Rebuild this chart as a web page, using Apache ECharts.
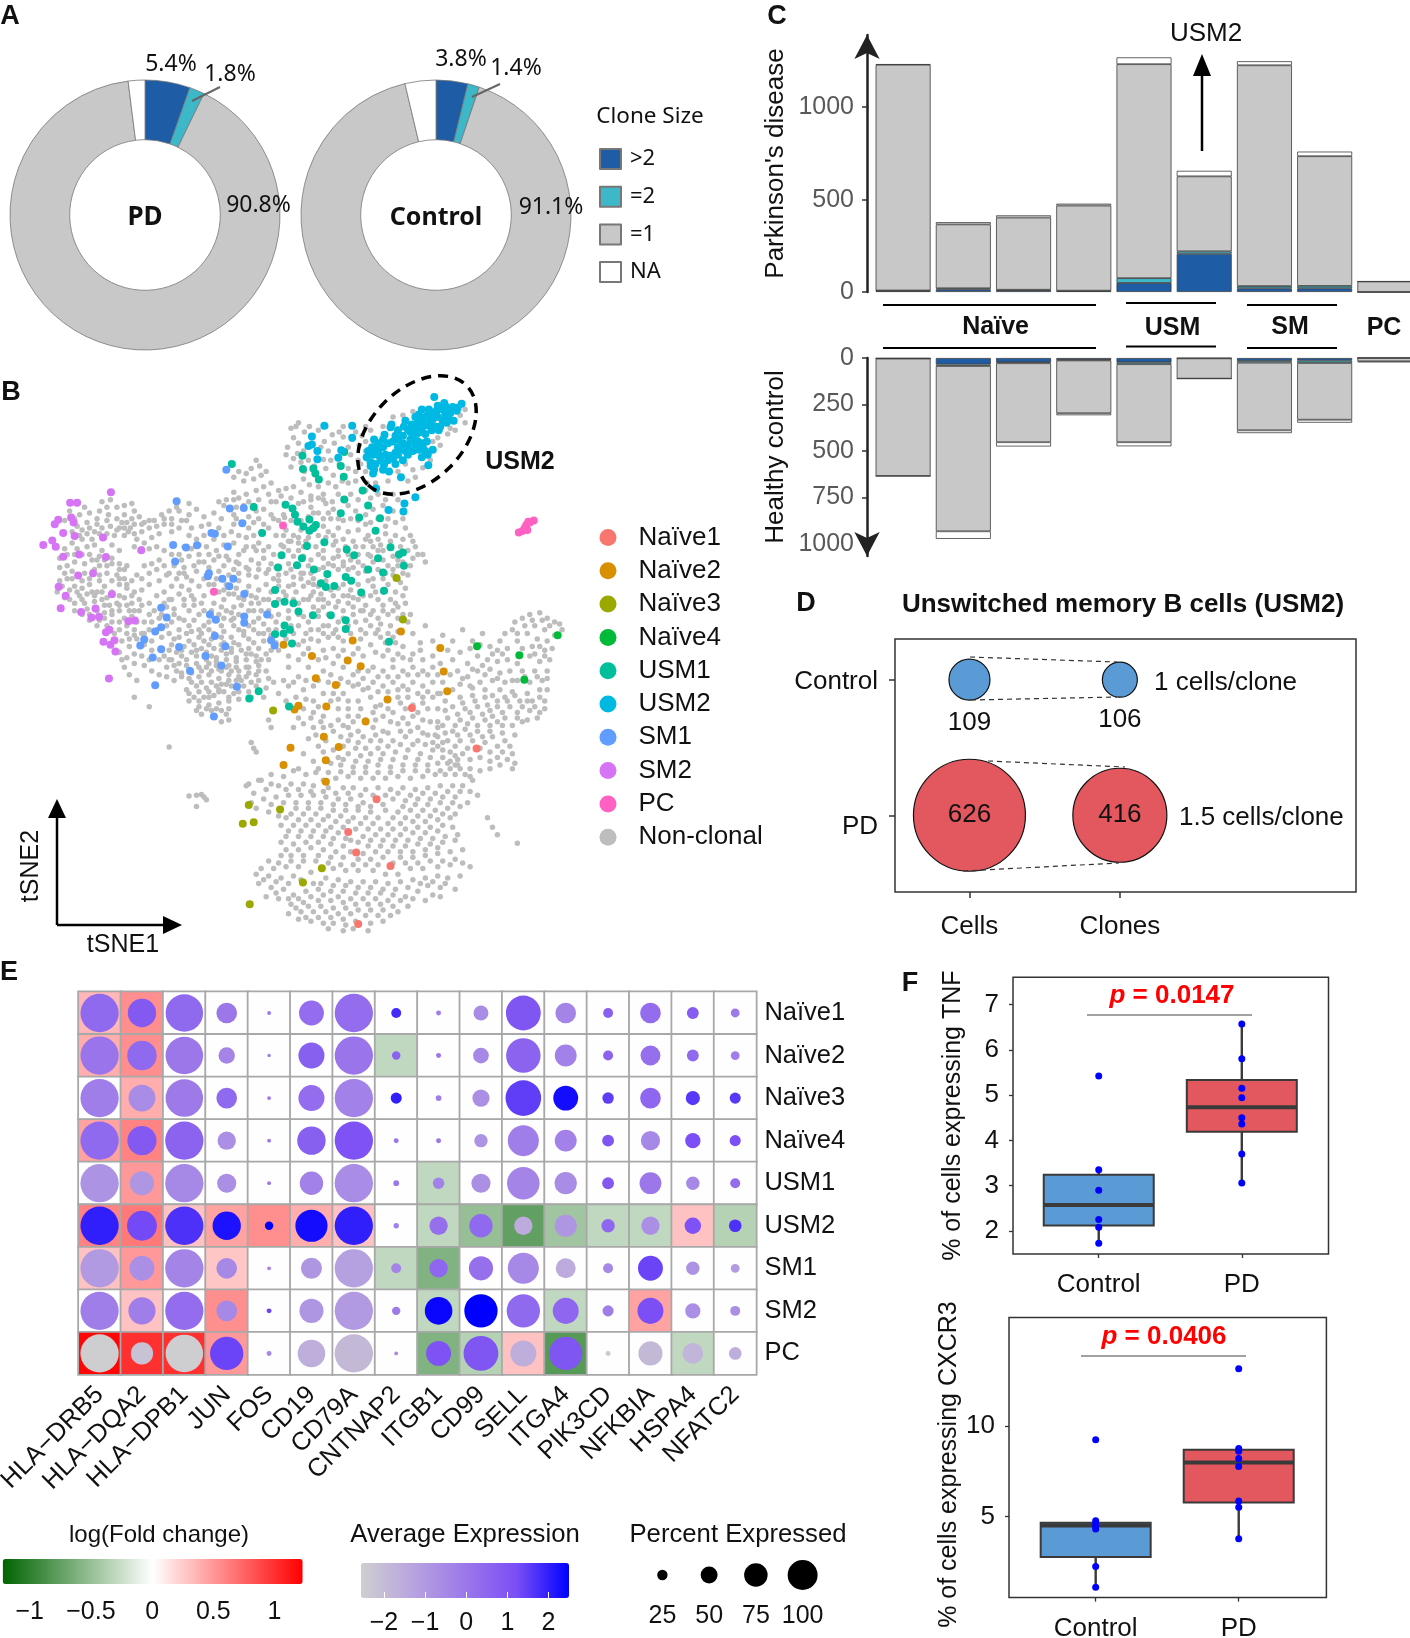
<!DOCTYPE html>
<html><head><meta charset="utf-8"><style>html,body{margin:0;padding:0;background:#fff}#c{width:1410px;height:1638px}</style>
<script src="https://cdn.jsdelivr.net/npm/echarts@6/dist/echarts.min.js"></script></head><body><div id="c"></div>
<script>
// ---------- DATA ----------
const cloneClasses=['>2','=2','=1','NA'];
const piePD=[5.4,1.8,90.8,2.0];
const pieControl=[3.8,1.4,91.1,3.7];
const subsetNames=['Naïve1','Naïve2','Naïve3','Naïve4','USM1','USM2','SM1','SM2','PC','Non-clonal'];
const tsneNaive1=[828,898,958,1006,757,1141,700,1228,716,1282,785,1318,720,1472];
const tsneNaive2=[570,730,709,719,806,695,885,739,892,801,899,854,627,760,699,772,725,787,635,819,675,837,779,876,656,894,600,892,592,902,735,934,651,975,681,1002,584,1004,655,1037,570,1050,655,1094];
const tsneNaive3=[797,553,810,663,549,905,500,1156,563,1168,488,1206,510,1202,647,1324,609,1362,502,1420];
const tsneNaive4=[959,734,1044,758,1121,705,1054,823];
const tsneUSM1=[466,250,608,228,692,218,609,263,630,262,634,275,641,291,685,255,691,284,729,320,692,344,510,364,574,358,588,368,593,385,740,360,685,381,722,392,764,394,598,403,622,397,635,412,610,416,630,420,622,427,755,427,527,433,652,458,617,468,785,471,697,477,712,492,566,492,607,500,810,485,802,490,760,500,812,520,597,519,559,525,631,530,740,530,770,538,658,542,695,550,706,560,645,567,655,577,672,574,772,587,553,585,726,591,590,620,572,616,553,622,600,642,629,652,665,652,695,665,695,688,572,679,583,690,570,700,553,702,587,727,782,722,520,854,501,873,581,894];
const tsneUSM2=[652,148,708,148,873,72,928,90,627,177,708,180,627,198,620,202,686,213,638,215,638,237,680,233,813,355,781,372,811,376,835,338,756,315,806,285,861,253,893,88,880,95,905,105,918,108,890,105,868,112,848,105,912,135,885,150,882,160,860,120,870,130,880,125,895,118,900,125,845,130,840,140,850,150,835,155,825,165,845,165,855,170,830,180,815,135,787,145,785,152,773,172,752,185,760,195,770,205,780,195,790,190,800,185,810,195,820,200,830,170,840,190,850,205,860,225,870,212,855,215,848,232,848,195,858,190,800,205,815,215,795,220,785,228,775,225,760,215,750,225,737,232,745,245,755,250,765,240,780,240,790,235,800,225,752,265,770,265,782,270,750,275,745,255,805,210,825,185,835,200,810,175,820,158,842,118,850,135,865,140,875,150,890,135,905,115,895,95,910,98,878,108,862,105,855,125,835,125,828,145,812,150,800,160,795,175,770,185,755,205,748,205,740,215,762,228,772,252,795,250,810,240,820,225,830,215,842,212,838,170,868,160,862,148,898,140,920,100];
const tsneSM1=[455,265,355,349,462,368,490,367,487,407,425,433,432,435,458,469,348,465,374,472,396,466,352,509,420,540,418,548,447,555,469,555,461,575,491,595,324,632,335,658,422,650,434,664,491,655,491,672,537,650,324,684,312,695,290,716,282,732,432,707,360,736,324,742,453,734,545,718,552,732,307,764,413,760,445,785,382,800,312,838,476,842,430,921];
const tsneSM2=[223,325,141,353,155,353,143,392,117,398,110,410,148,405,127,433,150,441,207,445,105,453,87,465,112,470,127,496,159,490,213,497,284,479,157,546,187,540,118,576,132,600,225,596,122,633,163,643,192,634,184,658,199,656,258,668,271,666,220,690,213,697,208,722,230,718,222,730,232,748,219,820];
const tsnePC=[569,413,430,589,1043,432,1055,420,1060,425,1058,412,1065,405,1073,400,1062,403,1050,428];
const tsneNonClonal=[
585,155,600,140,612,165,590,180,578,205,600,195,610,215,622,150,640,160,655,150,668,172,690,150,652,190,672,195,690,178,715,165,735,150,722,200,735,190,700,205,660,215,650,238,665,240,705,225,720,240,735,215,590,235,575,225,605,245,620,240,655,262,670,280,700,262,715,270,725,250,735,270,660,300,675,310,700,300,715,295,610,290,622,305,640,310,590,310,605,325,625,335,650,330,680,330,705,330,720,345,745,340,760,330,775,345,790,330,800,345,
770,150,790,125,810,120,830,110,925,120,935,140,915,160,900,170,880,180,870,190,885,200,865,240,850,260,830,265,815,250,800,270,780,295,835,285,905,155,935,105,820,295,
515,240,522,255,505,262,495,275,480,270,470,285,490,295,510,290,525,280,535,270,545,300,530,310,515,320,495,330,480,340,470,325,455,345,450,360,440,350,475,365,500,350,520,345,540,330,555,350,565,335,575,315,585,340,530,370,545,385,560,400,520,395,500,390,470,385,445,395,430,380,410,390,395,370,380,355,360,375,345,395,330,410,375,400,385,420,360,420,345,430,405,415,420,410,440,420,470,410,500,420,520,460,540,420,555,440,570,470,590,440,580,455,540,470,515,480,495,470,480,490,505,505,530,500,545,515,520,530,495,525,475,510,455,495,435,480,415,470,400,490,380,495,360,490,370,525,390,520,410,510,430,505,450,520,470,530,
610,350,625,365,640,380,655,355,670,370,700,360,715,375,735,385,750,370,770,360,790,375,650,395,690,400,705,395,745,405,775,415,795,405,810,395,
205,350,222,345,215,365,235,365,200,375,218,385,195,395,180,380,170,365,160,385,175,405,155,415,140,375,250,360,265,355,270,375,250,385,235,395,280,390,290,405,270,410,255,405,240,420,222,415,205,420,190,430,175,435,165,450,145,460,130,475,190,465,175,470,250,440,270,435,262,420,285,430,300,420,310,400,325,385,340,375,355,365,380,385,305,445,320,435,290,460,
120,500,135,520,150,510,170,515,185,505,200,520,225,500,240,515,130,540,145,555,165,560,180,570,200,560,215,540,235,545,120,560,115,590,140,585,155,590,175,595,195,590,210,575,240,570,255,580,270,590,285,555,300,540,315,530,330,520,280,610,265,620,250,605,235,620,220,625,205,610,190,615,150,620,165,610,175,635,210,645,225,650,240,640,260,640,280,640,300,620,315,600,330,590,345,575,290,670,300,650,240,670,225,670,240,690,255,700,270,690,285,700,300,690,245,720,260,735,240,750,255,765,270,780,285,760,300,770,270,755,285,730,245,770,260,810,275,825,270,870,300,895,
340,540,355,555,370,540,385,560,400,575,380,585,360,595,345,610,330,620,350,635,370,625,390,610,410,600,430,620,450,610,470,630,455,640,440,650,420,670,400,650,380,640,360,660,345,670,340,700,360,690,380,680,400,690,420,690,445,680,465,665,480,650,500,640,520,620,540,640,520,660,500,680,480,690,465,710,445,710,420,730,400,710,380,720,360,710,345,730,330,760,345,770,365,760,385,750,405,740,425,760,445,745,465,750,480,730,500,715,520,700,540,690,555,670,500,740,515,760,495,770,475,790,455,770,435,785,415,790,395,780,375,785,355,800,335,790,400,510,420,525,440,535,460,545,480,560,500,575,520,585,535,570,550,555,500,545,480,540,515,550,535,540,505,600,480,605,460,595,440,590,420,570,
380,820,400,815,420,810,440,820,460,810,480,800,500,790,520,785,540,770,375,850,395,840,415,845,435,840,455,835,475,825,495,815,515,810,535,800,550,830,390,870,410,870,430,865,450,855,470,860,490,840,380,880,400,895,420,890,440,885,460,880,480,875,405,915,425,905,445,905,460,930,445,935,460,900,520,800,540,820,515,840,530,870,505,870,505,990,515,1015,510,1005,545,950,540,930,340,1002,
570,440,585,455,600,445,620,445,640,440,660,430,680,420,700,430,720,425,740,440,775,435,795,440,810,450,825,440,835,470,850,490,565,465,580,480,600,480,635,470,670,465,680,480,730,470,750,470,770,480,830,500,855,510,820,545,800,520,780,520,750,510,720,510,690,510,670,500,650,500,625,505,580,515,575,540,590,550,610,540,630,555,680,530,720,540,750,555,790,545,805,565,780,570,750,575,740,560,705,585,690,600,670,600,650,610,630,590,610,575,595,590,570,590,540,610,610,610,630,630,650,630,675,630,700,620,720,610,745,600,760,610,785,610,810,600,640,655,620,670,600,680,615,700,640,690,660,680,680,670,710,650,730,640,750,640,780,650,800,630,815,620,640,720,660,710,680,710,705,700,725,690,745,680,765,675,785,680,600,730,620,740,650,745,670,740,690,745,720,740,745,730,765,710,790,710,810,735,825,650,855,680,830,700,845,725,
770,760,790,770,810,765,830,755,850,770,870,760,910,770,930,690,950,720,970,700,985,735,1000,745,1020,740,1040,720,1030,690,1050,660,1065,650,1085,645,1100,660,1115,670,1075,680,1095,690,1060,700,1080,715,1100,720,1115,705,1130,690,1050,740,1070,735,1095,745,1065,760,1085,775,1105,770,1040,780,1020,770,1000,775,980,770,960,760,940,780,920,800,940,815,960,800,985,795,1005,805,1025,800,1050,800,1075,800,1100,800,1090,825,1065,830,1040,825,1015,830,990,825,965,830,945,840,925,835,1005,850,1030,855,1060,860,1085,850,1100,850,1045,880,1070,880,1095,880,1020,880,1000,880,975,870,950,865,925,870,910,895,935,900,960,895,985,905,1010,910,1040,910,1065,905,1085,910,1050,935,1030,945,1000,935,975,930,950,925,925,930,900,925,880,935,910,960,935,955,960,960,985,960,1010,965,1035,970,1025,1000,1000,1000,975,990,950,985,925,985,900,985,880,975,905,1015,930,1020,1000,1030,1020,1035,1035,1045,985,1060,965,1065,945,1060,920,1050,900,1045,
600,770,620,790,600,815,580,840,560,860,575,880,610,850,630,840,650,800,670,780,690,790,710,810,730,820,750,790,770,800,790,790,810,800,830,790,850,800,870,790,890,830,870,830,850,840,830,830,810,840,790,830,770,840,750,830,730,850,710,840,690,860,670,860,650,860,630,880,610,900,630,910,650,920,680,900,700,880,720,880,745,870,765,890,800,870,820,870,850,870,870,870,895,880,880,900,860,900,840,910,815,900,790,910,770,920,750,910,720,920,700,920,680,930,650,950,630,950,610,940,590,950,620,980,640,1000,670,960,700,950,720,960,750,950,770,960,800,940,820,940,840,950,865,935,880,950,860,970,840,985,815,975,790,985,765,985,745,985,720,990,700,985,670,1010,700,1020,725,1025,745,1020,770,1020,795,1015,820,1010,845,1020,870,1010,890,1010,905,1040,880,1045,860,1050,835,1050,810,1050,785,1055,760,1050,735,1055,710,1055,685,1050,660,1070,630,1040,610,1020,600,1060,
500,1100,520,1090,545,1075,570,1080,590,1065,615,1075,635,1070,675,1085,700,1080,725,1085,750,1085,775,1085,800,1080,825,1085,850,1080,875,1075,895,1075,915,1075,935,1075,950,1090,960,1130,930,1105,910,1105,885,1105,860,1110,835,1115,810,1110,785,1115,760,1110,735,1115,710,1110,690,1110,660,1110,630,1105,610,1100,585,1100,560,1105,535,1115,510,1125,495,1105,505,1150,530,1140,555,1135,580,1130,605,1130,630,1130,655,1135,680,1140,705,1140,730,1150,790,1140,815,1145,840,1140,865,1140,890,1135,915,1135,940,1150,925,1160,900,1165,875,1170,850,1170,825,1170,800,1175,775,1170,745,1175,720,1170,695,1170,670,1170,645,1165,620,1165,595,1165,540,1175,575,1190,600,1195,625,1195,650,1195,675,1200,700,1200,725,1205,750,1205,780,1205,805,1205,830,1200,855,1200,880,1195,905,1190,880,1225,855,1230,830,1230,805,1235,780,1235,755,1235,730,1240,705,1250,680,1230,655,1225,630,1225,605,1225,580,1225,565,1255,590,1260,615,1255,640,1255,665,1260,690,1265,740,1265,765,1265,790,1265,815,1265,840,1260,865,1260,890,1255,915,1250,930,1275,905,1280,880,1285,855,1290,830,1295,805,1295,770,1295,745,1300,720,1300,690,1295,665,1295,640,1290,610,1290,585,1290,565,1290,525,1325,550,1325,575,1320,600,1320,625,1335,670,1325,695,1330,720,1330,750,1330,775,1340,800,1340,825,1325,850,1325,880,1320,905,1315,930,1310,945,1320,925,1345,900,1350,880,1345,855,1350,830,1355,805,1360,780,1365,755,1360,730,1360,705,1360,680,1355,655,1350,630,1365,590,1345,565,1350,540,1345,515,1340,520,1365,545,1375,570,1380,590,1395,615,1385,640,1380,665,1385,690,1385,715,1390,740,1390,765,1390,790,1395,815,1400,840,1385,860,1370,885,1375,915,1380,885,1400,855,1410,820,1425,790,1425,765,1420,740,1420,715,1420,690,1415,665,1410,640,1410,610,1415,585,1420,560,1405,535,1400,580,1445,605,1440,630,1440,655,1440,680,1445,705,1445,735,1450,760,1450,785,1450,670,1470,650,1470,695,1475,690,1490,740,1490,625,1465,600,1460,
380,1132,395,1130,410,1135,395,1160,405,1128,415,1142,990,1215,1000,1235,1040,1258,980,1190,
595,150,628,175,645,205,682,165,708,185,728,175,745,160,598,222,585,258,612,270,632,255,642,290,682,250,688,295,738,300,650,345,668,350,695,345,735,320,755,300,600,355,630,380,590,372,572,392,
150,395,165,425,185,450,215,400,245,405,258,430,275,450,230,440,210,445,195,410,225,465,240,480,205,480,155,475,135,490,120,525,145,535,170,540,190,530,215,520,250,530,265,560,285,585,300,570,320,560,335,545,125,575,130,605,160,600,185,590,205,590,225,590,250,555,265,600,240,600,215,605,195,640,180,650,200,665,215,680,230,700,265,655,275,670,250,660,310,640,325,650,335,630,305,670,315,690,325,710,305,720,290,730,275,715,260,715,305,745,320,770,290,785,305,800,320,810,335,815,350,825,365,815,250,790,
350,520,365,505,345,490,330,480,315,470,395,535,415,545,435,555,455,570,475,580,495,590,515,605,545,590,560,575,560,545,365,575,385,600,405,620,425,640,445,630,465,645,485,625,505,620,525,640,545,655,350,650,370,665,390,665,410,680,430,700,450,695,470,680,490,670,510,690,530,675,550,700,350,715,370,735,390,730,410,720,430,740,450,725,470,725,490,705,510,725,530,720,340,745,355,750,375,770,395,760,415,770,435,765,455,790,475,765,495,755,520,740,535,755,350,785,365,805,385,805,405,800,425,800,445,800,465,800,385,830,405,830,425,830,445,835,465,840,485,825,505,830,400,855,420,855,440,855,460,870,480,855,
575,425,605,425,625,420,650,415,670,440,690,450,710,455,735,450,760,450,785,455,805,470,820,480,590,495,610,470,650,480,660,515,700,490,720,490,740,490,760,480,790,495,800,505,825,520,600,520,620,520,640,530,660,545,700,530,730,520,760,530,790,530,810,540,560,560,590,570,620,565,640,575,665,585,690,570,720,570,770,555,795,590,815,580,560,610,580,640,600,620,620,610,640,610,660,620,690,640,710,630,735,625,770,625,795,620,560,650,580,660,640,640,660,650,690,660,715,670,735,665,760,660,800,660,820,670,555,690,545,705,575,715,610,655,625,690,650,680,675,690,700,680,725,715,755,700,780,700,800,695,560,745,580,760,610,755,630,760,655,765,680,760,710,755,730,760,755,750,780,745,800,755,825,770,845,745,
870,720,890,705,910,720,900,745,925,750,945,740,965,730,1005,720,1015,700,1035,670,1055,680,1040,700,1070,665,1090,665,1105,680,1125,675,1085,735,1110,740,1075,755,1095,760,1010,755,990,755,970,785,950,795,930,820,905,810,885,780,1000,820,975,810,1030,825,1055,815,1080,815,1100,820,950,845,975,850,990,865,1015,870,1035,865,1060,880,1085,870,910,850,885,860,930,885,955,880,980,890,1000,895,1025,895,1050,895,1075,895,1095,900,895,905,920,915,945,910,970,915,990,920,1015,925,1040,925,1060,930,1080,925,890,945,915,945,940,940,960,945,985,945,1010,945,895,965,920,970,945,970,970,975,990,975,1015,985,890,990,915,1000,940,1005,965,1005,985,1015,1010,1015,1030,1020,920,1035,945,1035,965,1030,985,1040,1005,1050,1030,1060,945,1080,915,1025,
580,790,640,770,665,810,685,820,700,830,720,800,740,800,760,815,780,815,800,815,820,810,840,810,860,810,880,810,570,825,590,830,615,825,640,825,660,830,680,835,720,835,740,845,760,855,780,855,800,850,820,850,840,860,860,855,880,860,595,870,615,875,640,895,665,880,680,875,700,900,725,900,755,895,780,900,805,885,830,890,850,885,600,925,625,925,645,935,665,945,690,945,710,935,735,930,755,930,785,935,810,925,830,920,850,930,635,970,655,985,685,975,705,970,730,975,755,970,780,965,805,960,825,960,850,965,875,970,870,990,650,1015,680,1030,690,1000,715,1005,735,1005,760,1005,780,1000,805,995,830,995,855,995,880,1000,640,1060,665,1045,690,1035,715,1040,740,1040,765,1035,790,1035,815,1030,840,1035,865,1030,890,1030,915,1050,650,1090,685,1068,710,1070,735,1070,760,1070,785,1070,810,1065,835,1065,860,1065,885,1065,905,1060,925,1060,
525,1090,545,1100,575,1115,600,1115,625,1120,650,1120,675,1125,700,1125,725,1130,750,1130,775,1130,800,1125,825,1130,850,1125,875,1125,900,1120,925,1120,945,1120,515,1165,545,1155,570,1150,595,1150,620,1150,645,1150,670,1155,695,1155,720,1160,745,1160,770,1155,810,1160,835,1155,860,1155,885,1150,910,1150,560,1185,585,1180,610,1180,635,1180,660,1185,685,1185,710,1190,735,1190,760,1190,790,1190,815,1190,840,1185,865,1185,890,1180,915,1180,565,1210,590,1210,615,1210,640,1210,665,1215,690,1215,715,1220,740,1220,765,1220,790,1220,815,1220,840,1215,865,1215,890,1210,910,1215,575,1240,600,1240,625,1240,650,1240,670,1245,695,1245,720,1255,745,1250,770,1250,795,1250,820,1250,845,1245,870,1245,895,1240,920,1235,575,1275,600,1275,625,1270,650,1275,675,1280,705,1280,730,1285,755,1280,780,1280,805,1280,830,1280,855,1275,880,1270,540,1305,560,1310,585,1305,610,1305,635,1305,660,1310,685,1315,710,1315,735,1315,760,1315,790,1310,815,1310,840,1310,865,1305,890,1305,915,1300,530,1355,555,1360,580,1365,605,1355,645,1365,670,1370,695,1370,720,1375,745,1375,770,1380,795,1380,820,1375,845,1365,870,1360,895,1365,555,1390,580,1405,600,1405,625,1400,650,1395,680,1400,705,1405,730,1405,755,1405,780,1410,805,1410,830,1405,870,1395,595,1430,620,1425,645,1425,670,1430,695,1430,720,1435,745,1435,770,1435,800,1440,615,1455,640,1455,665,1455,690,1460,715,1465,745,1470,770,1465,660,1485,710,1485,
130,400,145,430,160,440,180,420,200,435,215,435,235,425,250,420,265,395,285,410,300,400,315,415,330,395,345,410,365,400,300,475,285,475,270,470,150,490,165,490,180,490,200,495,195,505,210,505,225,515,240,530,255,520,135,555,150,575,165,580,180,555,200,545,225,560,240,555,255,570,275,545,290,520,305,515,320,505,285,625,270,640,255,625,240,625,225,640,210,625,190,600,170,620,140,610,150,640,165,650,180,665,195,680,210,660,255,680,270,705,290,700,320,660,335,680,340,610,
380,440,395,450,410,440,430,450,450,440,465,430,480,440,495,445,510,440,525,430,450,465,470,460,490,480,510,470,530,480,550,490,370,470,385,475,400,465,420,490,440,495,460,505,480,515,500,530,520,515,540,530,555,525,375,550,360,540,410,555,430,570,450,585,470,595,490,610,510,640,530,610,550,620,370,610,390,625,410,640,430,660,450,660,470,660,490,695,510,670,530,700,385,695,405,700,425,715,445,730,465,740,485,745,505,755,525,770,545,745,555,725,375,700,395,745,365,745,415,750,435,775,455,755,475,775,495,790,515,775,340,770,360,780,380,795,400,790,420,780,440,795,460,785,480,815,500,805,520,825,535,845,500,855,480,840,460,825,440,850,420,870,400,880,380,860,395,905,415,900,435,900,455,915,
600,460,615,455,655,445,675,455,695,470,715,470,745,455,765,465,805,485,840,490,810,510,770,505,745,495,705,505,680,495,640,490,610,495,585,530,605,540,625,540,650,525,670,520,690,520,710,525,735,535,775,540,800,555,770,590,755,590,730,600,710,605,680,580,655,560,630,570,605,555,580,575,575,600,590,610,625,600,645,595,680,615,700,600,725,640,745,650,770,640,790,640,810,650,600,650,585,680,610,720,625,715,650,700,670,700,690,720,710,720,735,700,760,690,775,725,795,725,590,700,
560,320,545,350,510,360,470,345,490,360,515,375,475,395,490,405,510,405,530,410,550,395,570,385,585,400,605,400,620,390,665,395,680,395,720,400,735,410,760,395,780,395,815,420,830,455,660,380,625,345,640,340];
const pdBlue=[6,14,10,5,49,207,20,20,0];
const pdTeal=[2,6,2,2,26,13,12,13,0];
const pdGrey=[1222,346,391,461,1158,406,1195,702,57];
const pdNA=[3,12,12,10,37,30,22,25,0];
const hcBlue=[3,35,23,10,23,2,15,14,0];
const hcTeal=[0,8,5,3,10,0,10,13,0];
const hcGrey=[632,889,425,284,420,109,364,305,18];
const hcNA=[0,41,23,11,22,0,15,16,5];
const usm2Counts={Control:[109,106],PD:[626,416]};
const genes=['HLA−DRB5','HLA−DQA2','HLA−DPB1','JUN','FOS','CD19','CD79A','CNTNAP2','ITGB1','CD99','SELL','ITGA4','PIK3CD','NFKBIA','HSPA4','NFATC2'];
const heatRows=['Naïve1','Naïve2','Naïve3','Naïve4','USM1','USM2','SM1','SM2','PC'];
const logFC=[
[.35,.55,0,0,0,0,0,0,0,0,0,0,0,0,0,0],
[.4,.55,0,0,0,0,0,-.3,0,0,0,0,0,0,0,0],
[0,.4,0,0,0,0,0,0,0,0,0,0,0,0,0,0],
[.45,.6,0,0,0,0,0,0,0,0,0,0,0,0,0,0],
[0,.5,0,0,0,0,0,0,-.3,0,0,0,0,0,0,0],
[.6,.65,.3,.45,.55,.4,.3,0,-.3,-.5,-.75,-.45,-.3,-.3,.3,-.35],
[.3,.5,0,.28,0,0,0,-.3,-.6,0,0,0,0,0,0,0],
[0,.3,0,.55,0,0,0,0,-.3,0,0,-.3,0,.45,0,0],
[1.2,1,1,.5,0,0,0,0,-.6,-.35,.3,-.8,0,0,-.3,0]];
const avgExpr=[
[.4,.9,.4,0,0,.3,.3,1.8,-.2,-.6,1,-.4,.7,.3,.8,-.1],
[.1,.4,0,-.4,-.2,.7,.1,.6,0,-.5,.6,-.3,.6,.2,.4,-.2],
[-.2,-.6,-.1,.4,0,.3,-.3,2,-.2,-.7,1.5,2.3,1.5,.5,1.6,1.6],
[.4,.9,.6,-.7,0,.7,1.1,0,0,-.8,-.2,-.3,1,-.5,1.2,1.2],
[-.8,-.9,-.5,-.7,0,-.3,-.6,0,-.3,-.7,-.4,-.6,.9,0,-.5,.3],
[2,1.3,1.7,2.2,2.6,2.3,2,-.3,.2,.4,-1.5,-.9,.5,-.7,1.1,1.7],
[-1,-.7,-.4,-.5,-.4,-.9,-1.2,-.4,.5,.2,-.5,-1.5,-.5,1.4,-.8,-1],
[-.2,-.2,.3,-.5,1.4,-.9,-1,-.1,2.4,2.5,.4,.5,-.2,1.2,-.7,-.7],
[-2.5,-2.2,-2.5,1.4,-.5,-1.6,-1.9,-.5,1.1,1,-1.6,1,-2.4,-1.9,-1.8,-1.6]];
const pctExpr=[
[100,74,98,54,10,65,100,26,13,39,91,54,26,54,31,23],
[100,77,98,43,9,68,100,22,13,41,90,57,26,52,31,23],
[100,70,98,54,10,68,100,29,15,45,93,65,30,54,37,29],
[100,76,100,48,10,74,100,13,13,35,81,57,31,50,40,29],
[100,63,100,50,10,61,100,15,30,50,85,58,31,57,35,26],
[100,78,100,74,22,84,100,14,48,61,48,58,35,48,43,33],
[100,65,100,54,10,55,100,26,48,63,81,52,26,65,35,23],
[100,71,100,54,13,63,100,22,72,87,87,68,29,68,40,26],
[100,58,98,87,13,72,100,10,65,91,68,87,13,63,54,33]];
const pctLegend=[25,50,75,100];
const groups=['Control','PD'];
const tnfBoxes=[[1,1.73,2.12,2.57,3.24,3.35],[2,3.06,4.19,4.73,5.33,6.57]];
const tnfPoints=[[1,5.42],[1,3.35],[1,2.9],[1,2.25],[1,2.08],[1,1.73],[2,6.57],[2,5.8],[2,5.15],[2,4.94],[2,4.5],[2,4.36],[2,3.7],[2,3.06]];
const cxcr3Boxes=[[1,1.08,2.75,4.5,4.64,4.64],[2,3.76,5.77,7.97,8.68,8.68]];
const cxcr3Points=[[1,9.23],[1,4.75],[1,4.6],[1,4.45],[1,4.3],[1,2.23],[1,1.08],[2,13.16],[2,8.75],[2,8.6],[2,8.2],[2,7.75],[2,5.85],[2,5.5],[2,3.76]];

// ---------- STYLE ----------
const F='"Liberation Sans",Arial,sans-serif', NS='"Noto Sans",sans-serif';
const CB='#1f5ca6',CT='#3cb8c8',CG='#c8c8c8';
const subsetColors=['#f8766d','#d89000','#9aa800','#00ba38','#00bf9a','#00b9e3','#619cff','#d674f5','#ff61c3','#bdbdbd'];
const toPairs=a=>{const o=[];for(let i=0;i+1<a.length;i+=2)o.push([a[i],a[i+1]]);return o;};
const series=[],grid=[],xAxis=[],yAxis=[],graphic=[],legend=[],visualMap=[];
const addGrid=(l,t,w,h,extra)=>{grid.push(Object.assign({left:l,top:t,width:w,height:h,outerBoundsMode:'none',containLabel:false},extra||{}));return grid.length-1;};
const T=(x,y,text,font,o)=>{o=o||{};graphic.push({type:'text',x,y:y+2,rotation:o.rot||0,z:50,silent:true,style:{text,font,fill:o.fill||'#111',textAlign:o.align||'center',textVerticalAlign:'middle',rich:o.rich}});};
const L=(x1,y1,x2,y2,color,w,dash)=>{graphic.push({type:'line',z:50,silent:true,shape:{x1,y1,x2,y2},style:{stroke:color,lineWidth:w,lineDash:dash||null}});};
const arrowHead=(pts)=>{graphic.push({type:'polygon',z:50,silent:true,shape:{points:pts},style:{fill:'#000'}});};
const minus=v=>String(v).replace('-','−');

// ---------- A ----------
const pieColors=[CB,CT,CG,'#fff'];
[[piePD,145],[pieControl,436]].forEach(([vals,cx])=>{
  series.push({type:'pie',center:[cx,215],radius:[75.3,135],startAngle:90,clockwise:true,silent:true,label:{show:false},labelLine:{show:false},
    itemStyle:{borderColor:'#777',borderWidth:.8},
    data:cloneClasses.map((n,i)=>({name:n,value:vals[i],itemStyle:{color:pieColors[i]}}))});
});
legend.push({data:cloneClasses,orient:'vertical',left:599,top:148,padding:0,itemWidth:21,itemHeight:20,itemGap:15.7,selectedMode:false,icon:'rect',
  textStyle:{fontFamily:NS,fontSize:22,color:'#111',padding:[0,0,0,4]}});
T(650,115,'Clone Size','22.5px '+NS,{});
const pct='23px '+NS;
T(171,62,'5.4%',pct);T(230,72,'1.8%',pct);T(258.5,203,'90.8%',pct);
T(461,57,'3.8%',pct);T(516,66,'1.4%',pct);T(551,205,'91.1%',pct);
T(145,216,'PD','bold 26px '+NS);T(436,216,'Control','bold 25px '+NS);
L(220,87,192,101,'#666',2);L(500,84,472,97,'#666',2);

// ---------- B ----------
const gB=addGrid(0,370,780,590);
xAxis.push({gridIndex:gB,type:'value',min:0,max:1568,show:false});
yAxis.push({gridIndex:gB,type:'value',min:0,max:1568,inverse:true,show:false});
[tsneNaive1,tsneNaive2,tsneNaive3,tsneNaive4,tsneUSM1,tsneUSM2,tsneSM1,tsneSM2,tsnePC,tsneNonClonal].forEach((arr,i)=>{
  const nc=i===9;
  series.push({type:'scatter',name:subsetNames[i],xAxisIndex:gB,yAxisIndex:gB,data:toPairs(arr),symbolSize:nc?5.5:8,z:nc?2:3,silent:true,large:false,itemStyle:{color:subsetColors[i],opacity:1}});
});
legend.push({data:subsetNames,orient:'vertical',left:599.5,top:524.5,padding:0,itemWidth:17,itemHeight:17,itemGap:7.3,selectedMode:false,icon:'circle',
  textStyle:{fontFamily:F,fontSize:26,color:'#111',padding:[0,0,0,17]}});
graphic.push({type:'ellipse',z:50,silent:true,x:417,y:435,rotation:Math.PI/4,shape:{cx:0,cy:0,rx:70,ry:46},style:{fill:null,stroke:'#000',lineWidth:3.5,lineDash:[10,7]}});
T(520,460,'USM2','bold 25px '+F);
L(57,925,57,810,'#000',2.5);L(57,925,170,925,'#000',2.5);
arrowHead([[57,799],[48,818],[66,818]]);arrowHead([[182,925],[163,916],[163,934]]);
T(31,864,'tSNE2','25px '+F,{rot:Math.PI/2});T(123,943,'tSNE1','25px '+F);

// ---------- C ----------
const barCats=['Naïve1','Naïve2','Naïve3','Naïve4','USM1','USM2','SM1','SM2','PC'];
const gC1=addGrid(873,35,542,257),gC2=addGrid(873,358,542,198);
const cAxis=(g,inverse,max,ticks,name)=>{
  xAxis.push({gridIndex:g,type:'category',data:barCats,show:false});
  yAxis.push({gridIndex:g,type:'value',min:0,max,inverse,offset:6,name,nameLocation:'middle',nameRotate:90,nameGap:78,
    nameTextStyle:{fontFamily:F,fontSize:26,color:'#111'},
    axisLine:{show:true,onZero:false,symbol:inverse?['arrow','none']:['none','arrow'],symbolSize:[19,24],lineStyle:{color:'#222',width:2.5}},
    axisTick:{show:true,length:5,customValues:ticks,lineStyle:{color:'#333',width:1.5}},
    axisLabel:{customValues:ticks,formatter:v=>String(v),fontFamily:F,fontSize:25,color:'#595959',margin:13,padding:[4,0,0,0]},splitLine:{show:false}});
};
cAxis(gC1,false,1391,[0,500,1000],"Parkinson's disease");
cAxis(gC2,true,1065,[0,250,500,750,1000],'Healthy control');
[[pdBlue,pdTeal,pdGrey,pdNA,gC1,'pd'],[hcBlue,hcTeal,hcGrey,hcNA,gC2,'hc']].forEach(s=>{
  [0,1,2,3].forEach(i=>series.push({type:'bar',name:s[5]+cloneClasses[i],stack:s[5],xAxisIndex:s[4],yAxisIndex:s[4],data:s[i],barWidth:55,silent:true,
    itemStyle:{color:pieColors[i],borderColor:'#3d3d3d',borderWidth:.8}}));
});
[[883,1096,305],[1126,1216,303],[1247,1337,305],[883,1096,348],[1126,1216,346.5],[1247,1337,348]].forEach(a=>L(a[0],a[2],a[1],a[2],'#000',2));
const gl='bold 25px '+F;
T(995.6,325,'Naïve',gl);T(1172.5,326,'USM',gl);T(1290,325,'SM',gl);T(1384,326,'PC',gl);
T(1206,32,'USM2','26px '+F);L(1202,151,1202,70,'#000',2.5);arrowHead([[1202,54],[1193,76],[1211,76]]);

// ---------- D ----------
const gD=addGrid(895,639,461,253,{show:true,borderColor:'#333',borderWidth:1.5});
xAxis.push({gridIndex:gD,type:'value',min:.505,max:3.57,axisLine:{show:false},splitLine:{show:false},
  axisTick:{show:true,length:6,customValues:[1,2],lineStyle:{color:'#333',width:1.5}},
  axisLabel:{customValues:[1,2],formatter:v=>v===1?'Cells':'Clones',fontFamily:F,fontSize:26,color:'#111',margin:22}});
yAxis.push({gridIndex:gD,type:'value',min:.7,max:2.566,inverse:true,axisLine:{show:false},splitLine:{show:false},
  axisTick:{show:true,length:6,customValues:[1,2],lineStyle:{color:'#333',width:1.5}},
  axisLabel:{customValues:[1,2],formatter:v=>v===1?'{c|Control}':'{pd|PD}',rich:{c:{fontFamily:F,fontSize:26,color:'#111',padding:[5,0,0,0]},pd:{fontFamily:F,fontSize:26,color:'#111',padding:[24,0,0,0]}},fontFamily:F,fontSize:26,color:'#111',margin:17}});
const bubbleSize={109:41,106:35,626:112,416:94};
series.push({type:'scatter',xAxisIndex:gD,yAxisIndex:gD,silent:true,z:4,data:usm2Counts.Control.map((v,i)=>[i+1,1,v]),symbolSize:v=>bubbleSize[v[2]],
  itemStyle:{color:'#5b9bd5',borderColor:'#111',borderWidth:1.2,opacity:1},label:{show:true,position:'bottom',distance:9,formatter:p=>p.value[2],fontFamily:F,fontSize:26,color:'#111'}});
series.push({type:'scatter',xAxisIndex:gD,yAxisIndex:gD,silent:true,z:4,data:usm2Counts.PD.map((v,i)=>[i+1,2,v]),symbolSize:v=>bubbleSize[v[2]],
  itemStyle:{color:'#e3575f',borderColor:'#111',borderWidth:1.2,opacity:1},label:{show:true,position:'inside',formatter:p=>p.value[2],fontFamily:F,fontSize:26,color:'#111'}});
L(970,657,1117,662,'#333',1.2,[5,4]);L(971,700,1117,697,'#333',1.2,[5,4]);L(988,761,1125,767,'#333',1.2,[5,4]);L(963,871,1119,863,'#333',1.2,[5,4]);
T(1154,681,'1 cells/clone','26px '+F,{align:'left'});T(1179,816,'1.5 cells/clone','26px '+F,{align:'left'});
T(1123,603,'Unswitched memory B cells (USM2)','bold 26px '+F);

// ---------- E ----------
const gE=addGrid(78.4,991.7,678,383);
xAxis.push({gridIndex:gE,type:'category',data:genes,axisLine:{show:false},axisTick:{show:false},
  axisLabel:{rotate:45,interval:0,fontFamily:F,fontSize:25.5,color:'#111',margin:16}});
yAxis.push({gridIndex:gE,type:'category',data:heatRows,inverse:true,position:'right',axisLine:{show:false},axisTick:{show:false},
  axisLabel:{fontFamily:F,fontSize:25.5,color:'#111',margin:8}});
const heatData=[],dotData=[];
heatRows.forEach((r,y)=>genes.forEach((g,x)=>{heatData.push([x,y,logFC[y][x]]);dotData.push([x,y,avgExpr[y][x],pctExpr[y][x]]);}));
const iHeat=series.length;
series.push({type:'heatmap',xAxisIndex:gE,yAxisIndex:gE,data:heatData,silent:true,z:2,itemStyle:{borderColor:'#a8a8a8',borderWidth:1.8}});
const iDot=series.length;
series.push({type:'scatter',xAxisIndex:gE,yAxisIndex:gE,data:dotData,silent:true,z:3,symbolSize:v=>v[3]*.383,itemStyle:{opacity:1}});
visualMap.push({type:'continuous',seriesIndex:iHeat,dimension:2,min:-1.22,max:1.23,orient:'horizontal',left:2.7,top:1559,itemWidth:25,itemHeight:300,padding:0,calculable:false,hoverLink:false,inRange:{color:['#006400','#ffffff','#ff0000']},textStyle:{fontSize:0},text:null,show:true,realtime:false});
visualMap.push({type:'continuous',seriesIndex:iDot,dimension:2,min:-2.56,max:2.5,orient:'horizontal',left:361,top:1563,itemWidth:35,itemHeight:208,padding:0,calculable:false,hoverLink:false,inRange:{color:['#cfcfcf','#b8a4df','#9c78ea','#7a4ef5','#0000ff']},textStyle:{fontSize:0},text:null,show:true,realtime:false});
const gCb1=addGrid(2.7,1559,300,25),gCb2=addGrid(361,1563,208,35);
[[gCb1,-1.22,1.23,[-1,-.5,0,.5,1],16,0],[gCb2,-2.56,2.5,[-2,-1,0,1,2],13,6]].forEach(c=>{
  xAxis.push({gridIndex:c[0],type:'value',min:c[1],max:c[2],z:10,axisLine:{show:false},splitLine:{show:false},
    axisTick:{show:c[5]>0,inside:true,length:c[5],customValues:c[3],lineStyle:{color:'#fff',width:1}},
    axisLabel:{customValues:c[3],formatter:v=>minus(v),fontFamily:F,fontSize:25,color:'#111',margin:c[4]}});
  yAxis.push({gridIndex:c[0],type:'value',show:false,min:0,max:1});
});
const gPct=addGrid(639,1560,187,30);
xAxis.push({gridIndex:gPct,type:'category',data:pctLegend.map(String),axisLine:{show:false},axisTick:{show:false},axisLabel:{interval:0,fontFamily:F,fontSize:25,color:'#111',margin:14}});
yAxis.push({gridIndex:gPct,type:'value',show:false,min:0,max:1});
series.push({type:'scatter',xAxisIndex:gPct,yAxisIndex:gPct,silent:true,data:pctLegend.map((p,i)=>[i,.5,p]),symbolSize:v=>10.4+(v[2]-25)*.261,itemStyle:{color:'#000',opacity:1}});
T(159,1533,'log(Fold change)','24px '+F);T(465,1533,'Average Expression','25.7px '+F);T(738,1533,'Percent Expressed','25.7px '+F);

// ---------- F ----------
const boxColors=['#5b9bd5','#e3575f'];
const boxPanel=(l,t,w,h,xMin,xMax,yMin,yMax,ticks,name,namePad,boxes,pts)=>{
  const g=addGrid(l,t,w,h,{show:true,borderColor:'#333',borderWidth:1.5});
  xAxis.push({gridIndex:g,type:'value',min:xMin,max:xMax,axisLine:{show:false},splitLine:{show:false},
    axisTick:{show:true,length:4,customValues:[1,2],lineStyle:{color:'#333',width:1.3}},
    axisLabel:{customValues:[1,2],formatter:v=>groups[v-1],fontFamily:F,fontSize:26,color:'#111',margin:18}});
  yAxis.push({gridIndex:g,type:'value',min:yMin,max:yMax,axisLine:{show:false},splitLine:{show:false},
    name,nameLocation:'middle',nameRotate:90,nameGap:47,nameTextStyle:{fontFamily:F,fontSize:25,color:'#111',padding:namePad},
    axisTick:{show:true,length:4,customValues:ticks,lineStyle:{color:'#333',width:1.3}},
    axisLabel:{customValues:ticks,fontFamily:F,fontSize:26,color:'#111',margin:14}});
  series.push({type:'custom',xAxisIndex:g,yAxisIndex:g,silent:true,z:3,data:boxes,encode:{x:0,y:[1,2,3,4,5]},
    renderItem:(p,api)=>{
      const x=api.value(0),c=k=>api.coord([x,api.value(k)]);
      const [cx,yLo]=c(1),yQ1=c(2)[1],yM=c(3)[1],yQ3=c(4)[1],yHi=c(5)[1],hw=55,stroke='#3a3a3a';
      return {type:'group',children:[
        {type:'line',shape:{x1:cx,y1:yLo,x2:cx,y2:yHi},style:{stroke,lineWidth:2.4}},
        {type:'rect',shape:{x:cx-hw,y:yQ3,width:2*hw,height:yQ1-yQ3},style:{fill:boxColors[p.dataIndex],stroke,lineWidth:2}},
        {type:'line',shape:{x1:cx-hw,y1:yM,x2:cx+hw,y2:yM},style:{stroke,lineWidth:4}}]};
    }});
  series.push({type:'scatter',xAxisIndex:g,yAxisIndex:g,silent:true,z:4,data:pts,symbolSize:7,itemStyle:{color:'#0000ff',opacity:1}});
};
boxPanel(1013,977.3,315.5,276.7,.4007,2.606,1.49,7.6,[2,3,4,5,6,7],'% of cells expressing TNF',[0,0,0,0],tnfBoxes,tnfPoints);
boxPanel(1009,1317.6,317.4,280,.394,2.613,.51,15.98,[5,10],'% of cells expressing CXCR3',[0,14,0,0],cxcr3Boxes,cxcr3Points);
const pRich={i:{fontStyle:'italic',fontWeight:'bold',fontSize:26,fontFamily:F,fill:'#f00'},b:{fontWeight:'bold',fontSize:26,fontFamily:F,fill:'#f00'}};
T(1172,993.5,'{i|p}{b| = 0.0147}','bold 26px '+F,{fill:'#f00',rich:pRich});L(1087,1015,1252,1015,'#444',1.2);
T(1164,1334.6,'{i|p}{b| = 0.0406}','bold 26px '+F,{fill:'#f00',rich:pRich});L(1081,1356,1246,1356,'#444',1.2);

// ---------- panel letters ----------
const pl='bold 27px '+F;
T(10,15,'A',pl);T(11,391,'B',pl);T(777,15,'C',pl);T(806,602,'D',pl);T(9,971,'E',pl);T(910,982,'F',pl);

const chart=echarts.init(document.getElementById('c'),null,{renderer:'canvas',width:1410,height:1638});
chart.setOption({animation:false,backgroundColor:'#fff',textStyle:{fontFamily:F},tooltip:{show:false},grid,xAxis,yAxis,series,legend,visualMap,graphic});
</script></body></html>
